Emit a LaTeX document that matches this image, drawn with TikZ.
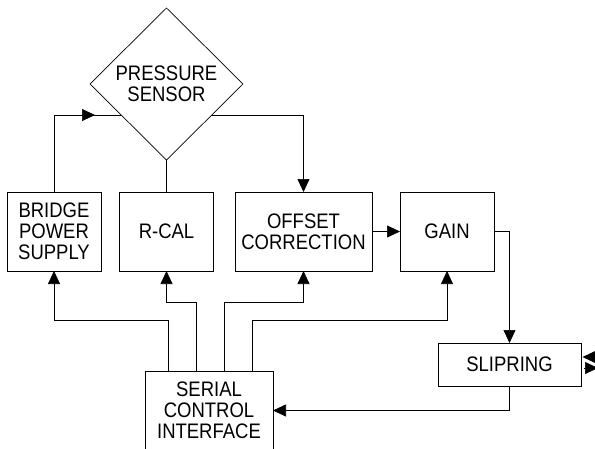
\documentclass[tikz,border=0pt]{standalone}
\usepackage{fontspec}
\newfontfamily\cadfont[FakeStretch=0.88]{Liberation Sans}
\usetikzlibrary{shapes.geometric,arrows.meta,calc}
\begin{document}
\begin{tikzpicture}[x=1pt,y=-1pt,
  every path/.style={line width=0.7pt},
  arr/.style={-{Triangle[length=13pt,width=12pt]}},
  txt/.style={font=\cadfont\fontsize{21}{20.8}\selectfont, align=center, inner sep=0pt},
  blk/.style={draw, rectangle, minimum height=79pt, inner sep=0pt, outer sep=0pt, font=\cadfont\fontsize{21}{20.8}\selectfont, align=center}
]
\useasboundingbox (0,0) rectangle (595,448);

\node[draw, diamond, minimum width=153pt, minimum height=152pt, inner sep=0pt, outer sep=0pt] (ps) at (166.5,84) {};
\node[txt] (pstext) at (ps.center) {PRESSURE\\SENSOR};

\node[blk, minimum width=94pt] (bps) at (54,231.5) {BRIDGE\\POWER\\SUPPLY};
\node[blk, minimum width=94pt] (rcal) at (166.5,231.5) {R-CAL};
\node[blk, minimum width=137pt] (off) at (303.5,231.5) {OFFSET\\CORRECTION};
\node[blk, minimum width=94pt] (gain) at (447,231.5) {GAIN};
\node[blk, minimum width=143pt, minimum height=43pt] (slip) at (509.5,364.5) {SLIPRING};
\node[blk, minimum width=128pt] (sci) at (209,410.5) {SERIAL\\CONTROL\\INTERFACE};

% sensor connections
\coordinate (pl) at ($(ps.west)!0.408!(ps.south)$);
\coordinate (pr) at ($(ps.east)!0.408!(ps.south)$);
\draw (bps.north) |- (pl);
\draw[arr] (bps.north |- pl) -- ++(41,0);
\draw[arr] (pr) -| (off.north);
\draw (ps.south) -- (rcal.north);

% signal chain
\draw[arr] (off.east) -- (gain.west);
\draw[arr] (gain.east) -| (slip.north);
\draw[arr] (slip.south) |- (sci.east);

% control lines
\draw[arr] ([xshift=-41pt]sci.north) |- ($(bps.south)+(0,49)$) -- (bps.south);
\draw[arr] ([xshift=-13pt]sci.north) |- ($(rcal.south)+(0,31)$) -- (rcal.south);
\draw[arr] ([xshift=15pt]sci.north) |- ($(off.south)+(0,31)$) -- (off.south);
\draw[arr] ([xshift=43pt]sci.north) |- ($(gain.south)+(0,49)$) -- (gain.south);

% external slipring lines
\coordinate (ein) at ([shift={(20,-7.5)}]slip.east);
\coordinate (eout) at ([shift={(17,3.5)}]slip.east);
\draw[arr] (ein) -- ([shift={(1.5,-7.5)}]slip.east);
\draw[arr] ([shift={(2.5,3.5)}]slip.east) -- (eout);
\end{tikzpicture}
\end{document}
